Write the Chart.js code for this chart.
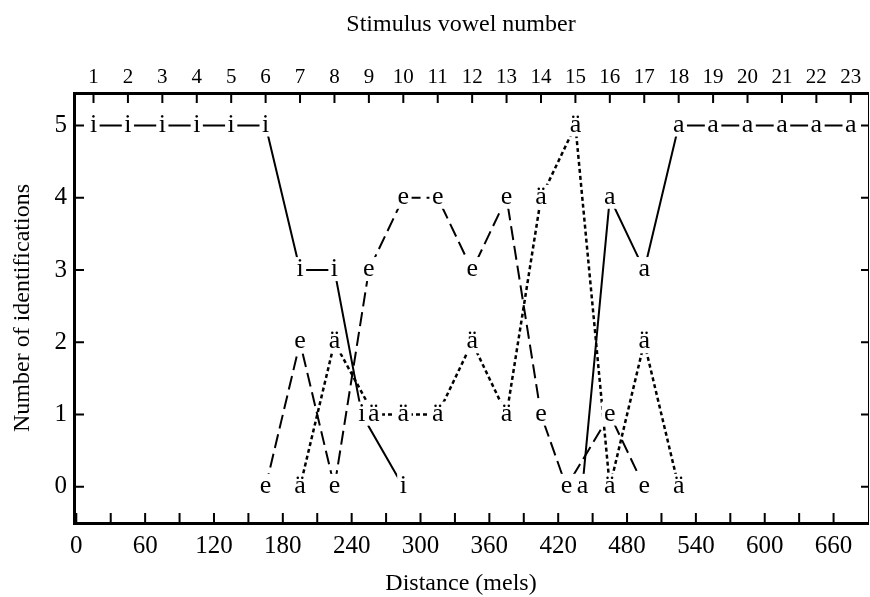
<!DOCTYPE html>
<html>
<head>
<meta charset="utf-8">
<script src="https://cdn.jsdelivr.net/npm/chart.js@4.4.1/dist/chart.umd.min.js"></script>
<style>
  html, body { margin: 0; padding: 0; background: #fff; }
</style>
</head>
<body>
<canvas id="myChart" width="870" height="597"></canvas>
<script>
// stimulus vowels and where they sit on the mel scale
const vowelNumbers = [1, 2, 3, 4, 5, 6, 7, 8, 9, 10, 11, 12, 13, 14, 15, 16, 17, 18, 19, 20, 21, 22, 23];
const vowelMels = [15, 45, 75, 105, 135, 165, 195, 225, 255, 285, 315, 345, 375, 405, 435, 465, 495, 525, 555, 585, 615, 645, 675];

// tick labels
const melTicks = [0, 30, 60, 90, 120, 150, 180, 210, 240, 270, 300, 330, 360, 390, 420, 450, 480, 510, 540, 570, 600, 630, 660];
const countTicks = [0, 1, 2, 3, 4, 5];

// number of identifications per vowel (null = not plotted)
const iCounts  = [5, 5, 5, 5, 5, 5, 3, 3, 1, 0, null, null, null, null, null, null, null, null, null, null, null, null, null];
const eCounts  = [null, null, null, null, null, 0, 2, 0, 3, 4, 4, 3, 4, 1, 0, 1, 0, null, null, null, null, null, null];
const aeCounts = [null, null, null, null, null, null, 0, 2, 1, 1, 1, 2, 1, 4, 5, 0, 2, 0, null, null, null, null, null];
const aCounts  = [null, null, null, null, null, null, null, null, null, null, null, null, null, null, 0, 4, 3, 5, 5, 5, 5, 5, 5];

const seriesLetters = ['i', 'e', 'ä', 'a'];

// small sideways pixel shifts where two letters share a vowel
const labelNudge = { 'i-9': -7, 'ä-9': 5, 'e-15': -9, 'a-15': 7 };

const serif = '"Liberation Serif", "DejaVu Serif", serif';
Chart.defaults.font.family = serif;
Chart.defaults.color = '#000';

function toPoints(counts) {
  return counts.map((c, k) => ({ x: vowelMels[k], y: c }));
}

// move the shared-vowel points apart a little so lines meet their letter
const nudgePoints = {
  id: 'nudgePoints',
  afterDatasetsUpdate(chart) {
    chart.data.datasets.forEach((ds, di) => {
      const meta = chart.getDatasetMeta(di);
      meta.data.forEach((pt, k) => {
        const dx = labelNudge[seriesLetters[di] + '-' + vowelNumbers[k]];
        if (dx) pt.x += dx;
      });
    });
  }
};

// ticks pointing into the plot, on all four sides
const innerTicks = {
  id: 'innerTicks',
  beforeDatasetsDraw(chart) {
    const { ctx, chartArea: a, scales } = chart;
    ctx.save();
    ctx.strokeStyle = '#000';
    ctx.lineWidth = 2;
    ctx.beginPath();
    scales.x.ticks.forEach(t => {
      const px = scales.x.getPixelForValue(t.value);
      ctx.moveTo(px, a.bottom); ctx.lineTo(px, a.bottom - 10);
    });
    scales.x2.ticks.forEach(t => {
      const px = scales.x2.getPixelForValue(t.value);
      ctx.moveTo(px, a.top); ctx.lineTo(px, a.top + 10);
    });
    scales.y.ticks.forEach(t => {
      const py = scales.y.getPixelForValue(t.value);
      ctx.moveTo(a.left, py); ctx.lineTo(a.left + 10, py);
      ctx.moveTo(a.right, py); ctx.lineTo(a.right - 7, py);
    });
    ctx.stroke();
    ctx.restore();
  }
};

// the vowel letters used as point markers
const letterMarks = {
  id: 'letterMarks',
  afterDatasetsDraw(chart) {
    const ctx = chart.ctx;
    const marks = [];
    ctx.save();
    ctx.font = '26px ' + serif;
    ctx.textAlign = 'center';
    ctx.textBaseline = 'alphabetic';
    chart.data.datasets.forEach((ds, di) => {
      const meta = chart.getDatasetMeta(di);
      const letter = seriesLetters[di];
      meta.data.forEach((pt, k) => {
        if (ds.data[k].y === null) return;
        marks.push({ letter, x: pt.x, base: pt.y + 6 });
      });
    });
    ctx.fillStyle = '#fff';
    marks.forEach(m => {
      const w = ctx.measureText(m.letter).width + 5;
      ctx.fillRect(m.x - w / 2, m.base - 19, w, 24);
    });
    ctx.fillStyle = '#000';
    marks.forEach(m => ctx.fillText(m.letter, m.x, m.base));
    ctx.restore();
  }
};

const axisTitles = {
  id: 'axisTitles',
  afterDraw(chart) {
    const { ctx, chartArea: a } = chart;
    const cx = (a.left + a.right) / 2 - 10;
    ctx.save();
    ctx.fillStyle = '#000';
    ctx.font = '24px ' + serif;
    ctx.textAlign = 'center';
    ctx.textBaseline = 'alphabetic';
    ctx.fillText('Stimulus vowel number', cx, 31);
    ctx.fillText('Distance (mels)', cx, 590);
    ctx.restore();
  }
};

const ctx = document.getElementById('myChart').getContext('2d');
const chart = new Chart(ctx, {
  type: 'line',
  data: {
    datasets: [
      { label: 'i', data: toPoints(iCounts), borderColor: '#000', borderWidth: 2, pointRadius: 0, tension: 0 },
      { label: 'e', data: toPoints(eCounts), borderColor: '#000', borderWidth: 2, borderDash: [14, 6], pointRadius: 0, tension: 0 },
      { label: 'ä', data: toPoints(aeCounts), borderColor: '#000', borderWidth: 2.5, borderDash: [4, 3], pointRadius: 0, tension: 0 },
      { label: 'a', data: toPoints(aCounts), borderColor: '#000', borderWidth: 2, pointRadius: 0, tension: 0 }
    ]
  },
  options: {
    responsive: false,
    animation: false,
    layout: { padding: 0 },
    plugins: {
      legend: { display: false },
      tooltip: { enabled: false }
    },
    scales: {
      x: {
        type: 'linear',
        position: 'bottom',
        min: -2,
        max: 690,
        afterBuildTicks: s => { s.ticks = melTicks.map(v => ({ value: v })); },
        afterFit: s => { s.height = 74; },
        ticks: {
          autoSkip: false,
          maxRotation: 0,
          padding: 8,
          font: { size: 25 },
          callback: v => (v % 60 === 0 ? String(v) : '')
        },
        grid: { display: false, drawTicks: false },
        border: { display: true, width: 3, color: '#000' }
      },
      x2: {
        type: 'linear',
        position: 'top',
        min: -2,
        max: 690,
        afterBuildTicks: s => { s.ticks = vowelMels.map(v => ({ value: v })); },
        afterFit: s => { s.height = 93; },
        ticks: {
          autoSkip: false,
          maxRotation: 0,
          padding: 3,
          font: { size: 21 },
          callback: (v, i) => String(vowelNumbers[i])
        },
        grid: { display: false, drawTicks: false },
        border: { display: true, width: 3, color: '#000' }
      },
      y: {
        position: 'left',
        min: -0.5,
        max: 5.45,
        afterBuildTicks: s => { s.ticks = countTicks.map(v => ({ value: v })); },
        afterFit: s => { s.width = 74; },
        ticks: { padding: 7, font: { size: 25 } },
        grid: { display: false, drawTicks: false },
        border: { display: true, width: 3, color: '#000' },
        title: {
          display: true,
          text: 'Number of identifications',
          font: { size: 24 },
          padding: { top: 8, bottom: 0 }
        }
      },
      y2: {
        position: 'right',
        min: -0.5,
        max: 5.45,
        afterFit: s => { s.width = 2; },
        ticks: { display: false },
        grid: { display: false, drawTicks: false },
        border: { display: true, width: 1, color: '#000' }
      }
    }
  },
  plugins: [nudgePoints, innerTicks, letterMarks, axisTitles]
});
</script>
</body>
</html>
